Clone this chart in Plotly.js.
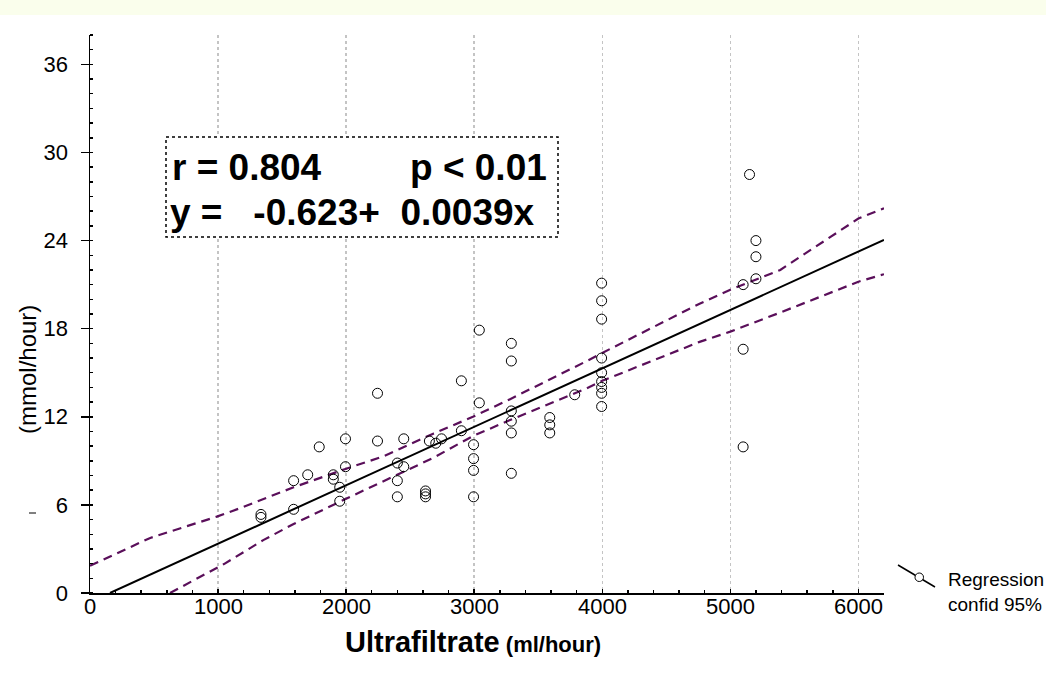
<!DOCTYPE html>
<html>
<head>
<meta charset="utf-8">
<script src="https://cdn.plot.ly/plotly-3.0.1.min.js"></script>
<style>
  html, body { margin: 0; padding: 0; background: #ffffff; }
  #chart { width: 1046px; height: 686px; }
</style>
</head>
<body>
<div id="chart"></div>
<script>
// ---- Data ----
const ufX = [1335, 1335, 1590, 1590, 1700, 1790, 1900, 1900, 1950, 1950, 1995, 1995,
  2245, 2245, 2400, 2400, 2400, 2450, 2450, 2620, 2620, 2620, 2650, 2700, 2745,
  2900, 2900, 2995, 2995, 2995, 2995, 3040, 3040,
  3290, 3290, 3290, 3290, 3290, 3290, 3590, 3590, 3590, 3785,
  3995, 3995, 3995, 3995, 3995, 3995, 3995, 3995, 3995,
  5100, 5100, 5100, 5150, 5200, 5200, 5200];
const ureaY = [5.35, 5.15, 5.7, 7.65, 8.05, 9.95, 8.05, 7.75, 7.2, 6.25, 10.5, 8.6,
  13.6, 10.35, 8.85, 7.65, 6.55, 10.5, 8.6, 6.95, 6.75, 6.55, 10.35, 10.2, 10.5,
  14.45, 11.05, 10.1, 9.15, 8.35, 6.55, 17.9, 12.95,
  17.0, 15.8, 12.4, 11.7, 10.9, 8.15, 11.95, 11.45, 10.9, 13.5,
  21.1, 19.9, 18.65, 16.0, 15.0, 14.4, 14.0, 13.6, 12.7,
  21.0, 16.6, 9.95, 28.5, 24.0, 22.9, 21.4];

const fitX = [156, 6200];
const fitY = [0, 24.05];

const upperX = [0, 470, 990, 1170, 1590, 1995, 2290, 2680, 2990, 3280, 3880, 4000, 4760, 5000, 5390, 6000, 6200];
const upperY = [1.85, 3.75, 5.2, 5.77, 7.2, 8.45, 9.3, 10.85, 12.0, 13.2, 15.8, 16.35, 19.7, 20.65, 22.0, 25.5, 26.2];

const lowerX = [625, 1046, 1353, 1590, 1995, 2680, 2990, 3280, 3880, 4000, 4760, 5000, 5390, 6000, 6200];
const lowerY = [0, 1.97, 3.6, 4.7, 6.4, 9.2, 10.69, 11.78, 13.94, 14.45, 17.1, 17.8, 19.1, 21.2, 21.71];

const xTicks = [0, 1000, 2000, 3000, 4000, 5000, 6000];
const xTickLabels = ['0', '1000', '2000', '3000', '4000', '5000', '6000'];
const yTicks = [0, 6, 12, 18, 24, 30, 36];
const yTickLabels = ['0', '6', '12', '18', '24', '30', '36'];

const statLine1a = 'r = 0.804';
const statLine1b = 'p < 0.01';
const statLine2 = 'y = &nbsp; -0.623+ &nbsp;0.0039x';
const xTitleMain = 'Ultrafiltrate';
const xTitleUnit = '(ml/hour)';
const yTitle = '(mmol/hour)';
const legendLine1 = 'Regression';
const legendLine2 = 'confid 95%';

// ---- Layout geometry ----
const W = 1046, H = 686;
const M = {l: 90, r: 162, t: 35, b: 93};
const PW = W - M.l - M.r, PH = H - M.t - M.b;
const px = x => (x - M.l) / PW;
const py = y => (H - M.b - y) / PH;

const FONT = 'Arial, "Liberation Sans", sans-serif';
const PURPLE = '#5a0f5a';

const traces = [
  {x: upperX, y: upperY, mode: 'lines', line: {color: PURPLE, width: 2.2, dash: '9px,6px'}, hoverinfo: 'skip'},
  {x: lowerX, y: lowerY, mode: 'lines', line: {color: PURPLE, width: 2.2, dash: '9px,6px'}, hoverinfo: 'skip'},
  {x: fitX, y: fitY, mode: 'lines', line: {color: '#000000', width: 2}},
  {x: ufX, y: ureaY, mode: 'markers', marker: {symbol: 'circle-open', size: 10, color: '#000000', line: {width: 1, color: '#000000'}}}
];

const xTickAnnotations = xTicks.map((v, i) => ({
  xref: 'x', yref: 'paper', x: v, y: py(606), xanchor: 'center', yanchor: 'middle',
  text: xTickLabels[i], showarrow: false, font: {size: 22, family: FONT, color: '#000'}
}));

const layout = {
  width: W, height: H,
  margin: M,
  paper_bgcolor: '#ffffff',
  plot_bgcolor: '#ffffff',
  showlegend: false,
  font: {family: FONT, color: '#000000'},
  xaxis: {
    range: [0, 6200],
    tickvals: xTicks,
    showticklabels: false,
    ticks: 'inside', ticklen: 4, tickwidth: 1.5, tickcolor: '#000',
    minor: {dtick: 200, tick0: 0, ticks: 'inside', ticklen: 3, tickcolor: '#000', showgrid: false},
    showline: true, linecolor: '#000000', linewidth: 2,
    showgrid: true, gridcolor: '#c4c4c4', griddash: 'dot', gridwidth: 1.5,
    zeroline: false, fixedrange: true
  },
  yaxis: {
    range: [0, 38],
    tickvals: yTicks,
    ticktext: yTickLabels,
    tickfont: {size: 22, family: FONT},
    ticks: 'outside', ticklen: 8, tickwidth: 1.5, tickcolor: '#000',
    ticklabelstandoff: 8,
    minor: {dtick: 1, tick0: 0, ticks: 'inside', ticklen: 3, tickcolor: '#000', showgrid: false},
    showline: true, linecolor: '#000000', linewidth: 1.5,
    showgrid: false, zeroline: false, fixedrange: true
  },
  shapes: [
    {type: 'rect', xref: 'paper', yref: 'paper', x0: px(0), x1: px(W), y0: py(0), y1: py(15),
     fillcolor: '#fafeec', line: {width: 0}, layer: 'below'},
    {type: 'rect', xref: 'paper', yref: 'paper', x0: px(166), x1: px(558), y0: py(137), y1: py(237),
     line: {color: '#000000', width: 1.5, dash: 'dot'}, fillcolor: 'rgba(255,255,255,1)'},
    {type: 'line', xref: 'paper', yref: 'paper', x0: px(898), x1: px(935), y0: py(565), y1: py(587),
     line: {color: '#000000', width: 1.5}},
    {type: 'circle', xref: 'paper', yref: 'paper', x0: px(915), x1: px(923.5), y0: py(573), y1: py(581.5),
     line: {color: '#000000', width: 1}, fillcolor: '#ffffff'},
    {type: 'line', xref: 'paper', yref: 'paper', x0: px(29), x1: px(36), y0: py(513), y1: py(513),
     line: {color: '#000000', width: 1}}
  ],
  annotations: xTickAnnotations.concat([
    {xref: 'paper', yref: 'paper', x: px(170), y: py(167), xanchor: 'left', yanchor: 'middle',
     text: '<b>' + statLine1a + '</b>', showarrow: false, font: {size: 37, family: FONT, color: '#000'}},
    {xref: 'paper', yref: 'paper', x: px(549), y: py(167), xanchor: 'right', yanchor: 'middle',
     text: '<b>' + statLine1b + '</b>', showarrow: false, font: {size: 37, family: FONT, color: '#000'}},
    {xref: 'paper', yref: 'paper', x: px(168), y: py(212), xanchor: 'left', yanchor: 'middle',
     text: '<b>' + statLine2 + '</b>', showarrow: false, font: {size: 37, family: FONT, color: '#000'}},
    {xref: 'paper', yref: 'paper', x: px(343), y: py(642), xanchor: 'left', yanchor: 'middle',
     text: '<b>' + xTitleMain + '</b><b><span style="font-size:22px"> ' + xTitleUnit + '</span></b>',
     showarrow: false, font: {size: 29, family: FONT, color: '#000'}},
    {xref: 'paper', yref: 'paper', x: px(27), y: py(370), xanchor: 'center', yanchor: 'middle', textangle: -90,
     text: yTitle, showarrow: false, font: {size: 24, family: FONT, color: '#000'}},
    {xref: 'paper', yref: 'paper', x: px(946), y: py(579), xanchor: 'left', yanchor: 'middle',
     text: legendLine1, showarrow: false, font: {size: 19, family: FONT, color: '#000'}},
    {xref: 'paper', yref: 'paper', x: px(946), y: py(604), xanchor: 'left', yanchor: 'middle',
     text: legendLine2, showarrow: false, font: {size: 19, family: FONT, color: '#000'}}
  ])
};

Plotly.newPlot('chart', traces, layout, {displayModeBar: false, staticPlot: true});
</script>
</body>
</html>
